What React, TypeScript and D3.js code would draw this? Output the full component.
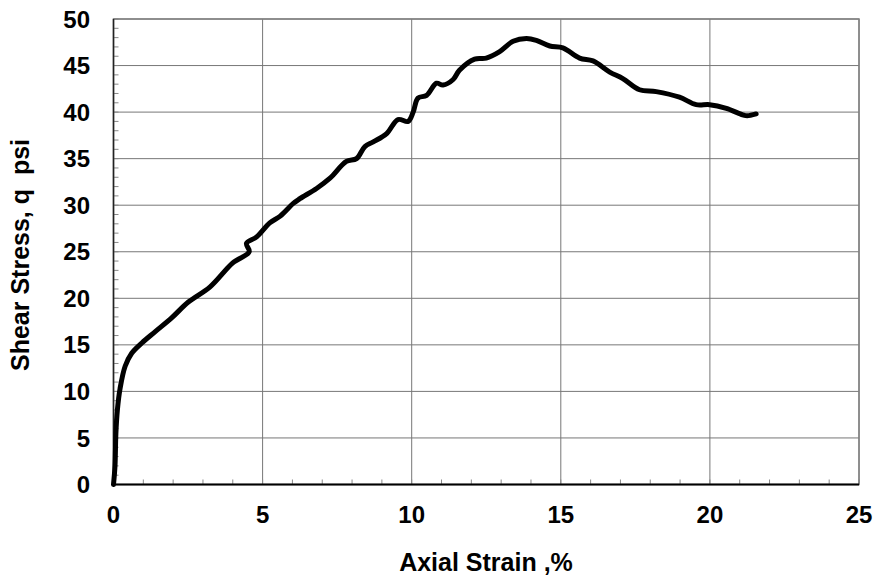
import React from "react";
import * as d3 from "d3";

const strain = [0, 0.05, 0.08, 0.13, 0.22, 0.39, 0.61, 0.95, 1.39, 1.95, 2.51, 3.23, 4.0, 4.55, 4.46, 4.8, 5.24, 5.58, 6.03, 6.25, 6.81, 7.26, 7.81, 8.15, 8.43, 8.71, 9.16, 9.54, 9.88, 10.05, 10.21, 10.5, 10.83, 11.05, 11.39, 11.6, 12.11, 12.5, 12.95, 13.4, 13.85, 14.18, 14.63, 15.07, 15.63, 16.08, 16.64, 17.08, 17.64, 18.2, 18.98, 19.54, 19.99, 20.55, 21.1, 21.25, 21.55];
const stress = [0, 2, 5.5, 8, 10.3, 12.7, 14.1, 15.2, 16.4, 17.9, 19.6, 21.2, 23.8, 25.0, 25.9, 26.6, 28.1, 28.8, 30.2, 30.7, 31.8, 32.9, 34.7, 35.0, 36.3, 36.8, 37.7, 39.2, 39.0, 40.0, 41.5, 41.8, 43.1, 42.9, 43.5, 44.5, 45.7, 45.8, 46.5, 47.6, 47.9, 47.7, 47.1, 46.9, 45.8, 45.5, 44.3, 43.6, 42.4, 42.2, 41.6, 40.8, 40.8, 40.4, 39.7, 39.6, 39.8];

const xTicks = [0, 5, 10, 15, 20, 25];
const yTicks = [0, 5, 10, 15, 20, 25, 30, 35, 40, 45, 50];
const xTitle = "Axial Strain ,%";
const yTitle = "Shear Stress, q  psi";

export default function App() {
  const W = 875, H = 579;
  const x = d3.scaleLinear().domain([0, 25]).range([113.5, 859]);
  const y = d3.scaleLinear().domain([0, 50]).range([484.5, 19]);
  const xMinor = d3.range(0, 26, 1);
  const yMinor = d3.range(0, 51, 1);
  const pts: [number, number][] = strain.map((s, i) => [s, stress[i]]);
  const line = d3
    .line<[number, number]>()
    .x((d) => x(d[0]))
    .y((d) => y(d[1]))
    .curve(d3.curveCatmullRom.alpha(0.5));
  const font = "'Liberation Sans', Arial, sans-serif";
  return (
    <svg width={W} height={H} style={{ position: "absolute", left: 0, top: 0, background: "#fff" }}>
      {xTicks.map((t) => (
        <line key={"gx" + t} x1={x(t)} x2={x(t)} y1={y(0)} y2={y(50)} stroke="#777" strokeWidth={1} />
      ))}
      {yTicks.map((t) => (
        <line key={"gy" + t} x1={x(0)} x2={x(25)} y1={y(t)} y2={y(t)} stroke="#777" strokeWidth={1} />
      ))}
      {xMinor.map((t) => (
        <line key={"mx" + t} x1={x(t)} x2={x(t)} y1={y(0)} y2={y(0) - 5} stroke="#888" strokeWidth={1} />
      ))}
      {yMinor.map((t) => (
        <line key={"my" + t} x1={x(0)} x2={x(0) + 5} y1={y(t)} y2={y(t)} stroke="#888" strokeWidth={1} />
      ))}
      <rect x={x(0)} y={y(50)} width={x(25) - x(0)} height={y(0) - y(50)} fill="none" stroke="#808080" strokeWidth={1.5} />
      <line x1={x(0)} x2={x(0)} y1={y(0)} y2={y(50)} stroke="#222" strokeWidth={1.5} />
      <line x1={x(0)} x2={x(25)} y1={y(0)} y2={y(0)} stroke="#000" strokeWidth={2} />
      <path d={line(pts) || ""} fill="none" stroke="#000" strokeWidth={5} strokeLinejoin="round" strokeLinecap="round" />
      {xTicks.map((t) => (
        <text key={"tx" + t} x={x(t)} y={522.5} textAnchor="middle" fontFamily={font} fontWeight="bold" fontSize={24} fill="#000">
          {t}
        </text>
      ))}
      {yTicks.map((t) => (
        <text key={"ty" + t} x={90} y={y(t) + 8.6} textAnchor="end" fontFamily={font} fontWeight="bold" fontSize={24} fill="#000">
          {t}
        </text>
      ))}
      <text x={486} y={571} textAnchor="middle" fontFamily={font} fontWeight="bold" fontSize={25} fill="#000" style={{ whiteSpace: "pre" }}>
        {xTitle}
      </text>
      <text transform={`translate(29,255) rotate(-90)`} textAnchor="middle" fontFamily={font} fontWeight="bold" fontSize={25} fill="#000" style={{ whiteSpace: "pre" }}>
        {yTitle}
      </text>
    </svg>
  );
}
